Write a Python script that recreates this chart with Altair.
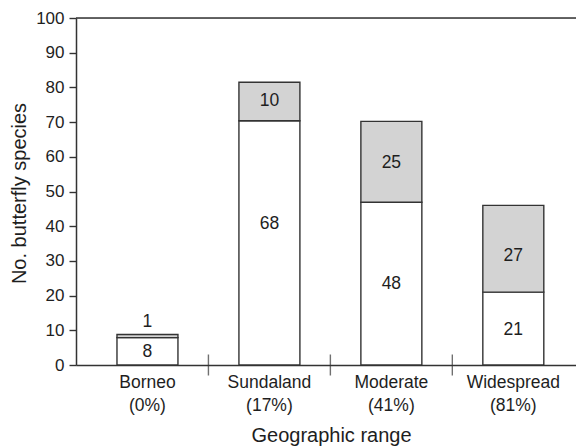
import altair as alt
import pandas as pd

# categories and percentages (x labels)
ranges = ["Borneo", "Sundaland", "Moderate", "Widespread"]
pcts = ["(0%)", "(17%)", "(41%)", "(81%)"]

# bar heights (white bottom segment top, bar total)
white_top = [7.9, 70.4, 46.9, 21.0]
bar_total = [8.8, 81.5, 70.2, 46.0]

# printed numbers and where they sit (data units)
white_labels = ["8", "68", "48", "21"]
white_label_y = [3.7, 40.5, 23.4, 10.0]
gray_labels = ["1", "10", "25", "27"]
gray_label_y = [12.4, 76.0, 58.1, 31.3]

y_ticks = list(range(0, 101, 10))

cats = [f"{r}\n{p}" for r, p in zip(ranges, pcts)]

bars = pd.DataFrame(
    [{"cat": c, "lo": 0, "hi": w, "seg": "white"} for c, w in zip(cats, white_top)]
    + [{"cat": c, "lo": w, "hi": t, "seg": "gray"} for c, w, t in zip(cats, white_top, bar_total)]
)
labels = pd.DataFrame(
    [{"cat": c, "lo": y, "t": t} for c, y, t in zip(cats, white_label_y, white_labels)]
    + [{"cat": c, "lo": y, "t": t} for c, y, t in zip(cats, gray_label_y, gray_labels)]
)
seps = pd.DataFrame({"cat": cats[1:], "lo": [0] * 3})
top = pd.DataFrame({"lo": [100]})

FONT = "Liberation Sans"
INK = "#333333"
TXT = "#1e1e1e"

xscale = alt.Scale(domain=cats, paddingInner=0.5, paddingOuter=0.3, align=0.56)
yscale = alt.Scale(domain=[0, 100], nice=False)

x_axis = alt.Axis(
    title="Geographic range",
    labelExpr="split(datum.label, '\\n')",
    labelAngle=0,
    labelFont=FONT,
    labelFontSize=17.5,
    labelColor=TXT,
    labelLineHeight=23,
    labelPadding=8,
    ticks=False,
    domainColor=INK,
    domainWidth=1.5,
    titleFont=FONT,
    titleFontSize=20,
    titleFontWeight="normal",
    titleColor=TXT,
    titleX=255,
    titleY=76,
    titleBaseline="alphabetic",
)

y_axis = alt.Axis(
    title="No. butterfly species",
    values=y_ticks,
    tickCount=11,
    grid=False,
    tickSize=7,
    tickColor=INK,
    tickWidth=1.4,
    domainColor=INK,
    domainWidth=1.5,
    labelFont=FONT,
    labelFontSize=17,
    labelColor=TXT,
    labelPadding=5,
    labelFlush=False,
    labelOverlap=False,
    titleFont=FONT,
    titleFontSize=20,
    titleFontWeight="normal",
    titleColor=TXT,
    titleX=-57,
    titleY=175,
    titleBaseline="middle",
    titleAlign="center",
)


def X(**kw):
    return alt.X("cat:N", scale=xscale, sort=cats, axis=x_axis, **kw)


def Y(field="lo"):
    return alt.Y(f"{field}:Q", scale=yscale, axis=y_axis)


bar_layer = alt.Chart(bars).mark_bar(stroke=INK, strokeWidth=1.4).encode(
    x=X(),
    y=Y(),
    y2="hi:Q",
    fill=alt.Fill(
        "seg:N",
        scale=alt.Scale(domain=["white", "gray"], range=["#ffffff", "#d3d3d3"]),
        legend=None,
    ),
)

text_layer = alt.Chart(labels).mark_text(
    font=FONT, fontSize=17.5, color=TXT, baseline="middle", align="center"
).encode(
    x=X(),
    y=Y(),
    text="t:N",
)

sep_layer = alt.Chart(seps).mark_tick(
    orient="vertical", size=21, thickness=1.4, color=INK, xOffset=-30.5
).encode(
    x=X(bandPosition=0),
    y=Y(),
)

top_layer = alt.Chart(top).mark_rule(color=INK, strokeWidth=1.5).encode(y=Y())

chart = (
    alt.layer(bar_layer, text_layer, sep_layer, top_layer)
    .properties(
        width=500,
        height=347,
        autosize=alt.AutoSizeParams(type="none"),
        padding={"left": 68, "top": 10, "right": 0, "bottom": 81},
    )
    .configure_view(stroke=None)
    .configure(background="white")
)

chart.save("out.html", embed_options={"renderer": "svg", "actions": False})
